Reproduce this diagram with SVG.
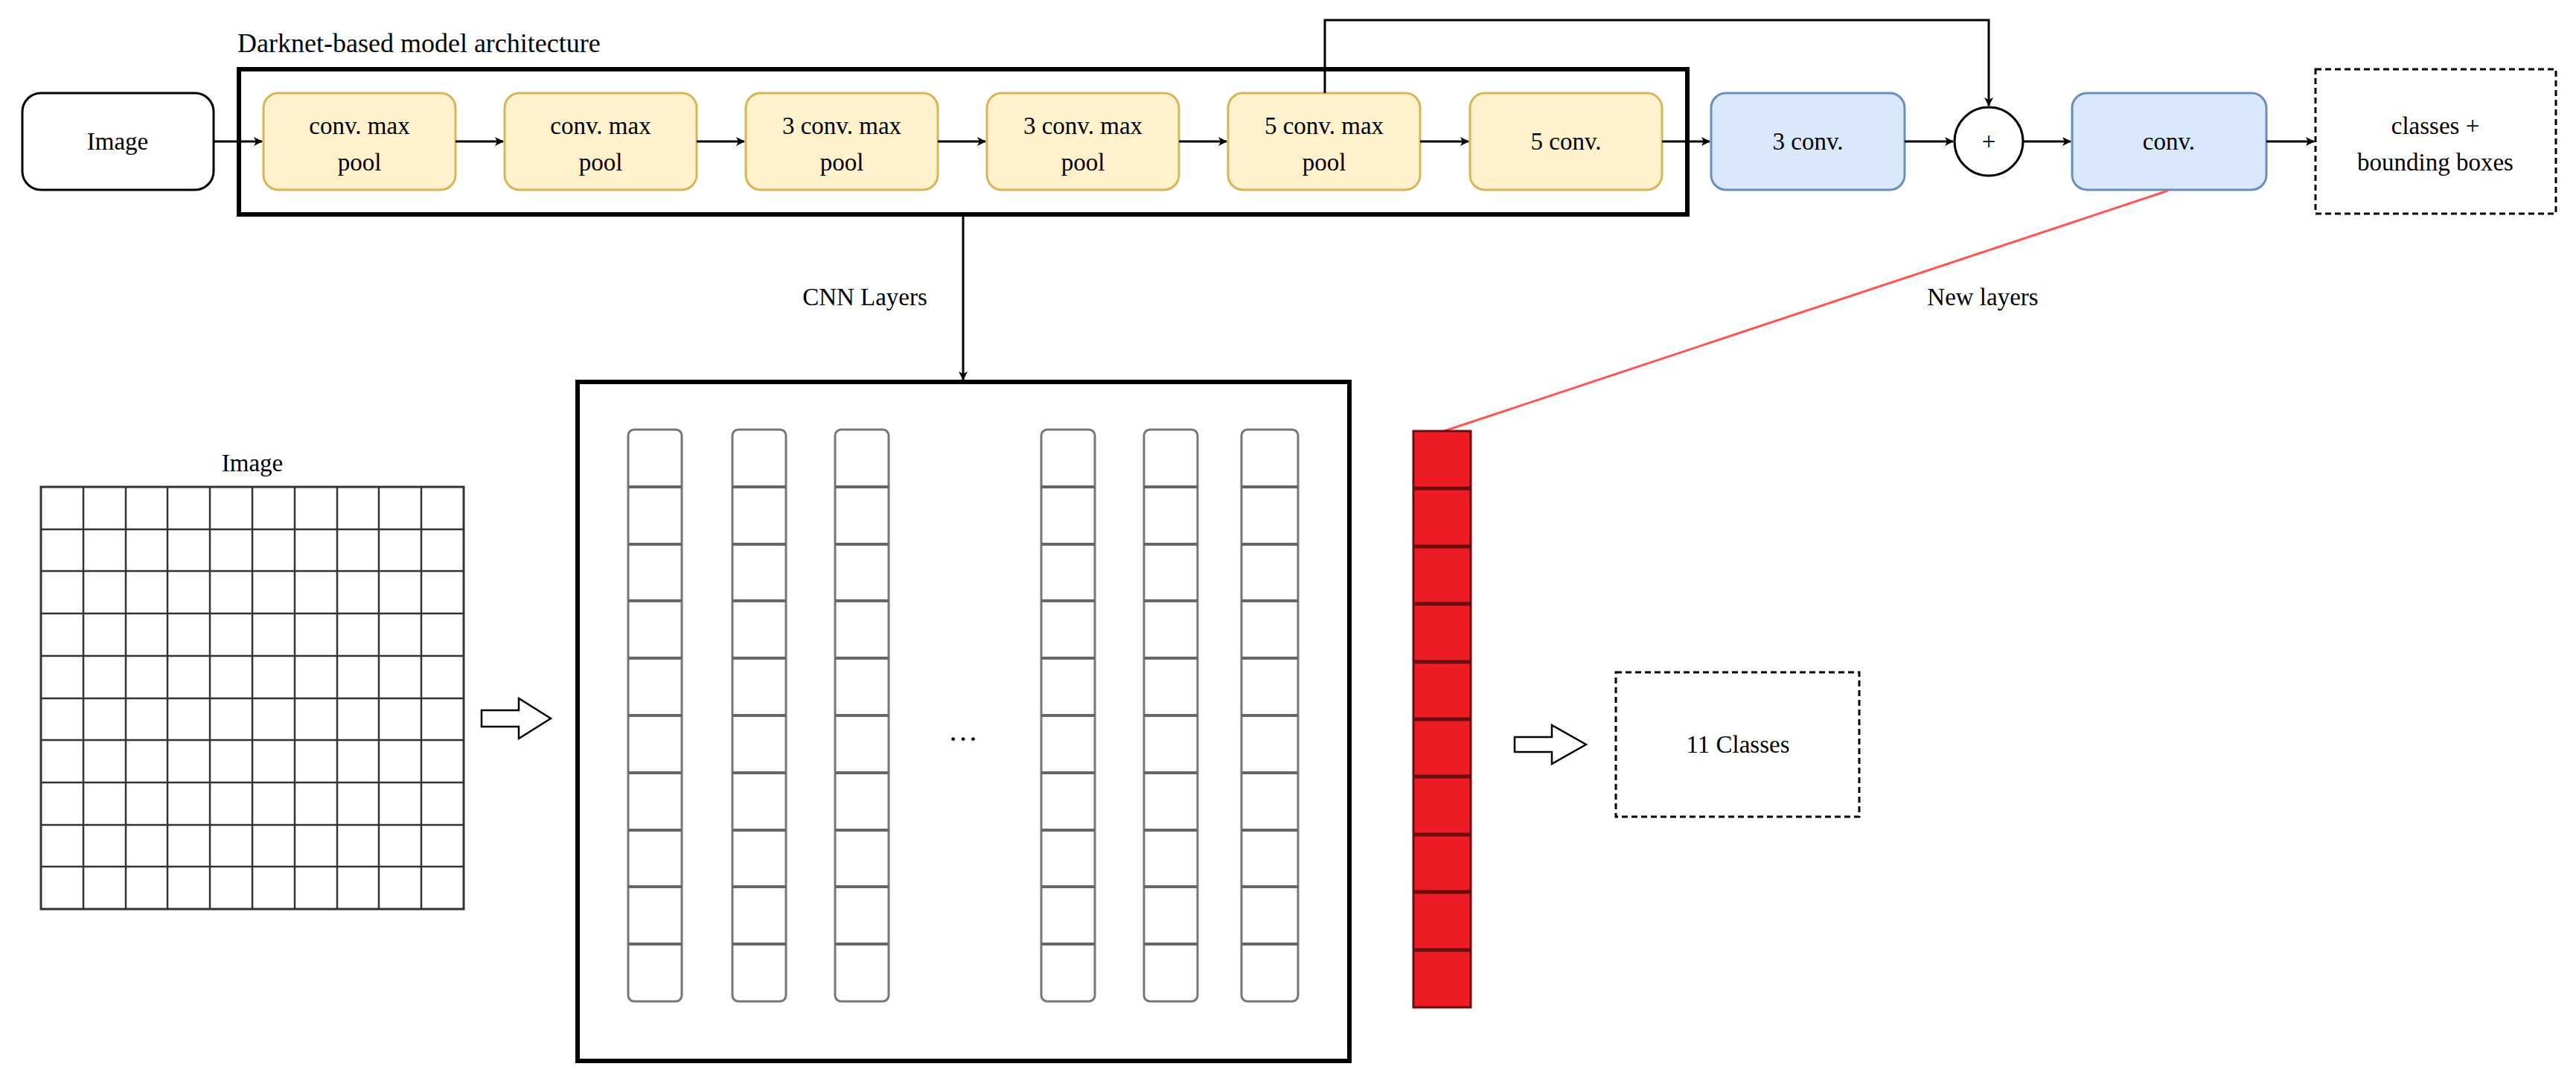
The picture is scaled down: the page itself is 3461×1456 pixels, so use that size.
<svg xmlns="http://www.w3.org/2000/svg" width="3461" height="1456" viewBox="0 0 3461 1456">
<defs>
<style>
text{font-family:"Liberation Serif","DejaVu Serif",serif;font-size:33px;fill:#000;text-anchor:middle}
.y{fill:#fff2cc;stroke:#d6b656;stroke-width:3}
.b{fill:#dae8fc;stroke:#6c8ebf;stroke-width:3}
.ln{stroke:#000;stroke-width:3;fill:none}
.cell{fill:#fff;stroke:#777;stroke-width:3}
.rc{fill:#ed1c24;stroke:#6a0d10;stroke-width:3}
.g{stroke:#333;stroke-width:2.5}
</style>
<marker id="ah" markerWidth="12" markerHeight="12" refX="11" refY="6" orient="auto" markerUnits="userSpaceOnUse" viewBox="0 0 12 12">
<path d="M0,0 L12,6 L0,12 L3,6 Z" fill="#000"/>
</marker>
</defs>
<rect width="3461" height="1456" fill="#fff"/>
<text x="319" y="70" style="text-anchor:start;font-size:36px">Darknet-based model architecture</text>
<g id="darknet"><rect x="321" y="93" width="1946" height="195" fill="none" stroke="#000" stroke-width="6"/></g>
<g id="image"><rect x="30" y="125" width="257" height="130" rx="25" fill="#fff" stroke="#000" stroke-width="3"/><text x="158" y="201">Image</text></g>
<g id="b1"><rect class="y" x="354" y="125" width="258" height="130" rx="20"/><text x="483" y="180">conv. max</text><text x="483" y="229">pool</text></g>
<g id="b2"><rect class="y" x="678" y="125" width="258" height="130" rx="20"/><text x="807" y="180">conv. max</text><text x="807" y="229">pool</text></g>
<g id="b3"><rect class="y" x="1002" y="125" width="258" height="130" rx="20"/><text x="1131" y="180">3 conv. max</text><text x="1131" y="229">pool</text></g>
<g id="b4"><rect class="y" x="1326" y="125" width="258" height="130" rx="20"/><text x="1455" y="180">3 conv. max</text><text x="1455" y="229">pool</text></g>
<g id="b5"><rect class="y" x="1650" y="125" width="258" height="130" rx="20"/><text x="1779" y="180">5 conv. max</text><text x="1779" y="229">pool</text></g>
<g id="b6"><rect class="y" x="1975" y="125" width="258" height="130" rx="20"/><text x="2104" y="201">5 conv.</text></g>
<g id="b7"><rect class="b" x="2299" y="125" width="260" height="130" rx="20"/><text x="2429" y="201">3 conv.</text></g>
<g id="plus"><circle cx="2672" cy="190" r="46" fill="#fff" stroke="#000" stroke-width="3"/><text x="2672" y="201">+</text></g>
<g id="b8"><rect class="b" x="2784" y="125" width="261" height="130" rx="20"/><text x="2914" y="201">conv.</text></g>
<g id="out"><rect x="3111" y="93" width="323" height="194" fill="#fff" stroke="#000" stroke-width="3" stroke-dasharray="8,5"/><text x="3272" y="180">classes +</text><text x="3272" y="229">bounding boxes</text></g>
<g id="connectors">
<line class="ln" x1="287" y1="190" x2="352" y2="190" marker-end="url(#ah)"/>
<line class="ln" x1="612" y1="190" x2="676" y2="190" marker-end="url(#ah)"/>
<line class="ln" x1="936" y1="190" x2="1000" y2="190" marker-end="url(#ah)"/>
<line class="ln" x1="1260" y1="190" x2="1324" y2="190" marker-end="url(#ah)"/>
<line class="ln" x1="1584" y1="190" x2="1648" y2="190" marker-end="url(#ah)"/>
<line class="ln" x1="1908" y1="190" x2="1973" y2="190" marker-end="url(#ah)"/>
<line class="ln" x1="2233" y1="190" x2="2297" y2="190" marker-end="url(#ah)"/>
<line class="ln" x1="2559" y1="190" x2="2624" y2="190" marker-end="url(#ah)"/>
<line class="ln" x1="2718" y1="190" x2="2782" y2="190" marker-end="url(#ah)"/>
<line class="ln" x1="3045" y1="190" x2="3109" y2="190" marker-end="url(#ah)"/>
<polyline class="ln" points="1780,125 1780,27 2672,27 2672,142" marker-end="url(#ah)"/>
<line class="ln" x1="1294" y1="290" x2="1294" y2="510" marker-end="url(#ah)"/>
<line x1="1937" y1="580" x2="2913" y2="256" stroke="#ff5555" stroke-width="3"/>
<path d="M647,954 h50 v-16 l43,27 l-43,27 v-16 h-50 z" fill="#fff" stroke="#000" stroke-width="2.5"/>
<path d="M2035,990 h50 v-16 l46,26 l-46,26 v-16 h-50 z" fill="#fff" stroke="#000" stroke-width="2.5"/>
</g>
<text x="1162" y="410">CNN Layers</text>
<text x="2664" y="410">New layers</text>
<g id="grid">
<text x="339" y="633">Image</text>
<rect x="55" y="654" width="568" height="567" fill="#fff" stroke="#333" stroke-width="3"/>
<path class="g" d="M112,654V1221M169,654V1221M225,654V1221M282,654V1221M339,654V1221M396,654V1221M453,654V1221M509,654V1221M566,654V1221M55,711H623M55,767H623M55,824H623M55,881H623M55,938H623M55,994H623M55,1051H623M55,1108H623M55,1164H623"/>
</g>
<g id="cnn">
<rect x="776" y="513" width="1037" height="912" fill="#fff" stroke="#000" stroke-width="6"/>
<g id="cols">
<rect class="cell" x="844" y="577" width="72" height="768" rx="8"/>
<rect class="cell" x="984" y="577" width="72" height="768" rx="8"/>
<rect class="cell" x="1122" y="577" width="72" height="768" rx="8"/>
<rect class="cell" x="1399" y="577" width="72" height="768" rx="8"/>
<rect class="cell" x="1537" y="577" width="72" height="768" rx="8"/>
<rect class="cell" x="1668" y="577" width="76" height="768" rx="8"/>
<path stroke="#666" stroke-width="4" d="M844,654h72M844,731h72M844,807h72M844,884h72M844,961h72M844,1038h72M844,1115h72M844,1191h72M844,1268h72 M984,654h72M984,731h72M984,807h72M984,884h72M984,961h72M984,1038h72M984,1115h72M984,1191h72M984,1268h72 M1122,654h72M1122,731h72M1122,807h72M1122,884h72M1122,961h72M1122,1038h72M1122,1115h72M1122,1191h72M1122,1268h72 M1399,654h72M1399,731h72M1399,807h72M1399,884h72M1399,961h72M1399,1038h72M1399,1115h72M1399,1191h72M1399,1268h72 M1537,654h72M1537,731h72M1537,807h72M1537,884h72M1537,961h72M1537,1038h72M1537,1115h72M1537,1191h72M1537,1268h72 M1668,654h76M1668,731h76M1668,807h76M1668,884h76M1668,961h76M1668,1038h76M1668,1115h76M1668,1191h76M1668,1268h76"/>
</g>
<text x="1294" y="995" style="font-size:40px">…</text>
</g>
<g id="red">
<rect class="rc" x="1899" y="579" width="77" height="774"/>
<path stroke="#6a0d10" stroke-width="5" d="M1899,656h77M1899,734h77M1899,811h77M1899,889h77M1899,966h77M1899,1043h77M1899,1121h77M1899,1198h77M1899,1276h77"/>
</g>
<g id="classes"><rect x="2171" y="903" width="327" height="194" fill="#fff" stroke="#000" stroke-width="3" stroke-dasharray="8,5"/><text x="2335" y="1011">11 Classes</text></g>
</svg>
